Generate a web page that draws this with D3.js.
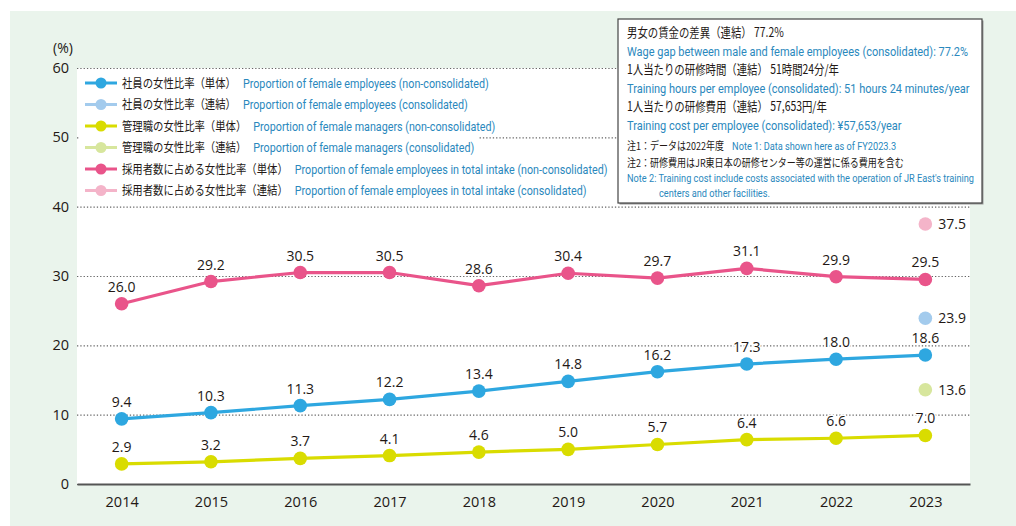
<!DOCTYPE html>
<html>
<head>
<meta charset="utf-8">
<script src="https://cdn.jsdelivr.net/npm/d3@7"></script>
<style>
body { margin: 0; background: #fff; }
svg { display: block; }
</style>
</head>
<body>
<svg width="1016" height="526"></svg>
<script>
// ---- data ----
var years = [2014, 2015, 2016, 2017, 2018, 2019, 2020, 2021, 2022, 2023];
var employeesNonCons = [9.4, 10.3, 11.3, 12.2, 13.4, 14.8, 16.2, 17.3, 18.0, 18.6];
var managersNonCons = [2.9, 3.2, 3.7, 4.1, 4.6, 5.0, 5.7, 6.4, 6.6, 7.0];
var intakeNonCons = [26.0, 29.2, 30.5, 30.5, 28.6, 30.4, 29.7, 31.1, 29.9, 29.5];
// consolidated figures only exist for the last year
var consYear = 2023;
var employeesCons = 23.9;
var managersCons = 13.6;
var intakeCons = 37.5;
var yTicks = [0, 10, 20, 30, 40, 50, 60];

var legendJa = [
    '社員の女性比率（単体）',
    '社員の女性比率（連結）',
    '管理職の女性比率（単体）',
    '管理職の女性比率（連結）',
    '採用者数に占める女性比率（単体）',
    '採用者数に占める女性比率（連結）'
];
var legendEn = [
    'Proportion of female employees (non-consolidated)',
    'Proportion of female employees (consolidated)',
    'Proportion of female managers (non-consolidated)',
    'Proportion of female managers (consolidated)',
    'Proportion of female employees in total intake (non-consolidated)',
    'Proportion of female employees in total intake (consolidated)'
];

var infoJa = [
    '男女の賃金の差異（連結） 77.2%',
    '1人当たりの研修時間（連結） 51時間24分/年',
    '1人当たりの研修費用（連結） 57,653円/年'
];
var infoEn = [
    'Wage gap between male and female employees (consolidated): 77.2%',
    'Training hours per employee (consolidated): 51 hours 24 minutes/year',
    'Training cost per employee (consolidated): ¥57,653/year'
];
var note1Ja = '注1：データは2022年度';
var note1En = 'Note 1: Data shown here as of FY2023.3';
var note2Ja = '注2：研修費用はJR東日本の研修センター等の運営に係る費用を含む';
var note2En = ['Note 2: Training cost include costs associated with the operation of JR East\'s training',
               'centers and other facilities.'];

// ---- styles ----
var colors = {
    blue: '#2ea7e0', blueLight: '#a3cbed',
    yellow: '#d9dc00', yellowLight: '#d7e69d',
    pink: '#e9548a', pinkLight: '#f4b4c9'
};
var legendColors = [colors.blue, colors.blueLight, colors.yellow, colors.yellowLight, colors.pink, colors.pinkLight];
var textDark = '#231815';
var textBlue = '#2a88bd';
var jaFont = '"Noto Sans CJK JP", "Noto Sans", sans-serif';
var enFont = 'Roboto, "Liberation Sans", sans-serif';
var numFont = '"Open Sans", "Noto Sans", sans-serif';

var svg = d3.select('svg');
var svgWidth = +svg.attr('width');
var svgHeight = +svg.attr('height');

var plot = { l: 77, r: 970, t: 68, b: 484 };

// background panel + white plot area
svg.append('rect')
    .attr('x', 10).attr('y', 11)
    .attr('width', svgWidth - 10).attr('height', svgHeight - 11)
    .attr('fill', '#eaf4ec');
svg.append('rect')
    .attr('x', plot.l).attr('y', plot.t)
    .attr('width', plot.r - plot.l).attr('height', plot.b - plot.t)
    .attr('fill', '#fff');

// scales
var xScale = d3.scalePoint().domain(years).range([plot.l, plot.r]).padding(0.5);
var yScale = d3.scaleLinear().domain([0, 60]).range([plot.b, plot.t]);

// gridlines and y labels
var yAxis = d3.axisLeft(yScale)
    .tickValues(yTicks)
    .tickSize(-(plot.r - plot.l))
    .tickPadding(8);
var gy = svg.append('g')
    .attr('transform', `translate(${plot.l}, 0)`)
    .call(yAxis);
gy.select('.domain').remove();
gy.selectAll('.tick line')
    .attr('stroke', '#666')
    .attr('stroke-width', 1.1)
    .attr('stroke-dasharray', '1.3,2');
gy.selectAll('.tick text')
    .attr('font-family', numFont)
    .attr('font-size', 14.5)
    .attr('fill', textDark);

svg.append('text')
    .attr('x', 63).attr('y', 53)
    .attr('text-anchor', 'middle')
    .attr('font-family', numFont)
    .attr('font-size', 14)
    .attr('fill', textDark)
    .text('(%)');

// x axis
var xAxis = d3.axisBottom(xScale).tickSize(0).tickSizeOuter(0).tickPadding(13);
var gx = svg.append('g')
    .attr('transform', `translate(0, ${plot.b})`)
    .call(xAxis);
gx.select('.domain').attr('stroke', '#555').attr('stroke-width', 1.8);
gx.selectAll('.tick text')
    .attr('font-family', numFont)
    .attr('font-size', 14.5)
    .attr('fill', textDark);

// helper: horizontally condensed text
function condText(parent, x, y, str, font, size, fill, sx) {
    return parent.append('text')
        .attr('transform', `translate(${x}, ${y}) scale(${sx}, 1)`)
        .attr('font-family', font)
        .attr('font-size', size)
        .attr('fill', fill)
        .text(str);
}

// legend
var legendG = svg.append('g');
var legendTop = 83, legendStep = 21.5;
legendJa.forEach(function (ja, i) {
    var cy = legendTop + i * legendStep;
    var row = legendG.append('g');
    var bg = row.append('rect').attr('fill', '#fff');
    row.append('line')
        .attr('x1', 85).attr('x2', 117)
        .attr('y1', cy).attr('y2', cy)
        .attr('stroke', legendColors[i]).attr('stroke-width', 3);
    row.append('circle')
        .attr('cx', 101).attr('cy', cy).attr('r', 5.5)
        .attr('fill', legendColors[i]);
    var jaT = condText(row, 122, cy + 4.5, ja, jaFont, 12.5, textDark, 0.83);
    var jaW = jaT.node().getComputedTextLength() * 0.83;
    var enX = 122 + jaW + 7;
    var enT = condText(row, enX, cy + 4.5, legendEn[i], enFont, 12.5, textBlue, 0.86);
    var enW = enT.node().getComputedTextLength() * 0.86;
    bg.attr('x', 80).attr('y', cy - legendStep / 2)
        .attr('width', enX + enW + 4 - 80).attr('height', legendStep);
});

// info box
var box = { l: 618, t: 19, r: 982, b: 203 };
var infoG = svg.append('g');
infoG.append('rect')
    .attr('x', box.l + 1.5).attr('y', box.t + 1.5)
    .attr('width', box.r - box.l).attr('height', box.b - box.t)
    .attr('fill', '#999');
infoG.append('rect')
    .attr('x', box.l).attr('y', box.t)
    .attr('width', box.r - box.l).attr('height', box.b - box.t)
    .attr('fill', '#fff')
    .attr('stroke', '#444')
    .attr('stroke-width', 1.2);

var tx = 627;
infoJa.forEach(function (ja, i) {
    var base = 37 + i * 37;
    condText(infoG, tx, base, ja, jaFont, 13, textDark, 0.8);
    condText(infoG, tx, base + 18.5, infoEn[i], enFont, 13.5, textBlue, 0.815);
});
var n1 = condText(infoG, tx, 150, note1Ja, jaFont, 11, textDark, 0.82);
var n1W = n1.node().getComputedTextLength() * 0.82;
condText(infoG, tx + n1W + 8, 150, note1En, enFont, 11.5, textBlue, 0.8);
condText(infoG, tx, 166.5, note2Ja, jaFont, 11, textDark, 0.82);
condText(infoG, tx, 181.5, note2En[0], enFont, 11.5, textBlue, 0.8);
condText(infoG, 659, 196.5, note2En[1], enFont, 11.5, textBlue, 0.8);

// series
var series = [
    { values: intakeNonCons, color: colors.pink },
    { values: employeesNonCons, color: colors.blue },
    { values: managersNonCons, color: colors.yellow }
];

var line = d3.line()
    .x(function (d, i) { return xScale(years[i]); })
    .y(function (d) { return yScale(d); });

var chartG = svg.append('g');

series.forEach(function (s) {
    chartG.append('path')
        .attr('d', line(s.values))
        .attr('fill', 'none')
        .attr('stroke', s.color)
        .attr('stroke-width', 3.2)
        .attr('stroke-linejoin', 'round');

    chartG.selectAll(null)
        .data(s.values)
        .enter()
        .append('circle')
        .attr('cx', function (d, i) { return xScale(years[i]); })
        .attr('cy', function (d) { return yScale(d); })
        .attr('r', 6.8)
        .attr('fill', s.color);

    chartG.selectAll(null)
        .data(s.values)
        .enter()
        .append('text')
        .attr('x', function (d, i) { return xScale(years[i]); })
        .attr('y', function (d) { return yScale(d) - 12; })
        .attr('text-anchor', 'middle')
        .attr('font-family', numFont)
        .attr('font-size', 14)
        .attr('fill', textDark)
        .attr('stroke', '#fff')
        .attr('stroke-width', 3)
        .attr('paint-order', 'stroke')
        .text(function (d) { return d.toFixed(1); });
});

// consolidated points (2023)
var consPoints = [
    { value: intakeCons, color: colors.pinkLight },
    { value: employeesCons, color: colors.blueLight },
    { value: managersCons, color: colors.yellowLight }
];
consPoints.forEach(function (p) {
    chartG.append('circle')
        .attr('cx', xScale(consYear))
        .attr('cy', yScale(p.value))
        .attr('r', 6.8)
        .attr('fill', p.color);
    chartG.append('text')
        .attr('x', xScale(consYear) + 13)
        .attr('y', yScale(p.value) + 5)
        .attr('font-family', numFont)
        .attr('font-size', 14)
        .attr('fill', textDark)
        .text(p.value.toFixed(1));
});
</script>
</body>
</html>
